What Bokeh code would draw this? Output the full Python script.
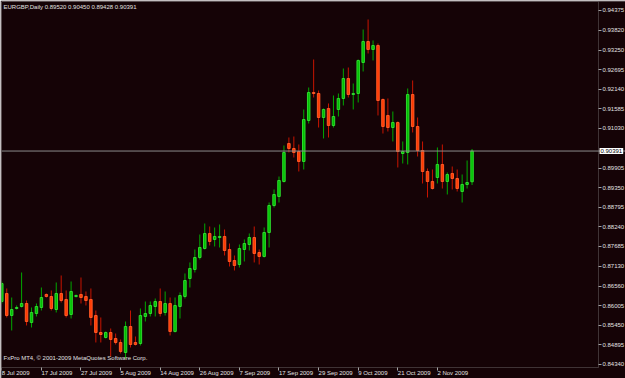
from bokeh.plotting import figure
from bokeh.models import (Range1d, FixedTicker, PrintfTickFormatter, Span, Label,
                          ColumnDataSource, LinearAxis, BoxAnnotation)
from bokeh.embed import file_html
from bokeh.resources import INLINE

symbol = "EURGBP,Daily"
copyright_text = "FxPro MT4, \u00a9 2001-2009 MetaQuotes Software Corp."

opens = [0.86126, 0.86353, 0.85729, 0.85928, 0.85984, 0.86069, 0.85531, 0.85786, 0.85956, 0.86325,
         0.86268, 0.85899, 0.86353, 0.86183, 0.85758, 0.86268, 0.86325, 0.86268, 0.86183, 0.85729,
         0.85247, 0.85106, 0.85247, 0.85077, 0.84964, 0.84680, 0.85417, 0.84964, 0.84935, 0.85701,
         0.85786, 0.85984, 0.86126, 0.85814, 0.86069, 0.85276, 0.85984, 0.86268, 0.86778, 0.87033,
         0.87373, 0.87628, 0.88054, 0.87884, 0.87940, 0.87969, 0.87600, 0.87288, 0.87175, 0.87600,
         0.87742, 0.87940, 0.87515, 0.87402, 0.88082, 0.88847, 0.89103, 0.89528, 0.90605, 0.90463,
         0.90378, 0.90095, 0.91257, 0.92051, 0.92022, 0.91342, 0.91597, 0.91115, 0.91569, 0.91881,
         0.92447, 0.91994, 0.92022, 0.92901, 0.93496, 0.93270, 0.93383, 0.91852, 0.91399, 0.91058,
         0.91200, 0.90321, 0.90350, 0.91994, 0.91087, 0.90406, 0.89811, 0.89528, 0.89641, 0.90010,
         0.89528, 0.89755, 0.89613, 0.89244, 0.89443, 0.89520]
highs = [0.86693, 0.86495, 0.86239, 0.86013, 0.86948, 0.86154, 0.85956, 0.86069, 0.86523, 0.86353,
         0.86438, 0.86665, 0.86863, 0.86438, 0.86693, 0.86325, 0.86806, 0.86410, 0.86495, 0.85871,
         0.85673, 0.85276, 0.85361, 0.85219, 0.85049, 0.85559, 0.85871, 0.85134, 0.85928, 0.86126,
         0.86126, 0.86211, 0.86495, 0.86410, 0.86239, 0.86239, 0.86381, 0.86920, 0.87232, 0.87600,
         0.88025, 0.88337, 0.88252, 0.88224, 0.88309, 0.88167, 0.87770, 0.87430, 0.87742, 0.87884,
         0.88054, 0.88252, 0.87600, 0.88224, 0.88932, 0.89301, 0.89669, 0.90548, 0.90775, 0.90803,
         0.90577, 0.91569, 0.92192, 0.92986, 0.92107, 0.91597, 0.91739, 0.91966, 0.92022, 0.92731,
         0.92759, 0.92306, 0.92986, 0.93836, 0.94120, 0.93525, 0.93440, 0.91881, 0.91881, 0.91512,
         0.91229, 0.90662, 0.92164, 0.92391, 0.91342, 0.90662, 0.89896, 0.89868, 0.90492, 0.90577,
         0.89783, 0.89953, 0.89868, 0.89726, 0.90123, 0.90450]
lows = [0.86069, 0.85673, 0.85304, 0.85899, 0.85956, 0.85446, 0.85389, 0.85701, 0.85871, 0.86239,
        0.85871, 0.85814, 0.86098, 0.85673, 0.85644, 0.86239, 0.86069, 0.86013, 0.85446, 0.84964,
        0.84964, 0.85077, 0.84567, 0.84907, 0.84652, 0.84510, 0.84822, 0.84879, 0.84879, 0.85559,
        0.85701, 0.85701, 0.85701, 0.85729, 0.85162, 0.85247, 0.85644, 0.86211, 0.86523, 0.86948,
        0.87317, 0.87600, 0.87714, 0.87685, 0.87657, 0.87430, 0.87118, 0.87005, 0.87090, 0.87260,
        0.87572, 0.87232, 0.87175, 0.87373, 0.87657, 0.88791, 0.88932, 0.89499, 0.90350, 0.90208,
        0.89811, 0.89868, 0.91172, 0.91909, 0.91058, 0.90747, 0.90775, 0.91058, 0.91370, 0.91682,
        0.91909, 0.91569, 0.91767, 0.92646, 0.93156, 0.92958, 0.91399, 0.90888, 0.90945, 0.90662,
        0.89925, 0.90038, 0.90010, 0.90917, 0.90236, 0.89471, 0.89074, 0.89301, 0.89471, 0.89329,
        0.89159, 0.89301, 0.89244, 0.88932, 0.89329, 0.89428]
closes = [0.86636, 0.85729, 0.85899, 0.85956, 0.86069, 0.85559, 0.85814, 0.85984, 0.86239, 0.86268,
          0.85928, 0.86353, 0.86154, 0.85729, 0.86410, 0.86296, 0.86239, 0.86154, 0.85673, 0.85247,
          0.85191, 0.85247, 0.85049, 0.84964, 0.84709, 0.85417, 0.84907, 0.84907, 0.85729, 0.85786,
          0.86013, 0.86126, 0.85786, 0.86069, 0.85276, 0.86013, 0.86296, 0.86721, 0.87062, 0.87373,
          0.87657, 0.88054, 0.87827, 0.87969, 0.87969, 0.87572, 0.87260, 0.87147, 0.87628, 0.87770,
          0.87940, 0.87487, 0.87402, 0.88082, 0.88847, 0.89159, 0.89556, 0.90350, 0.90463, 0.90350,
          0.90095, 0.91285, 0.92051, 0.92022, 0.91342, 0.91569, 0.91115, 0.91370, 0.91881, 0.92447,
          0.91994, 0.92022, 0.92958, 0.93496, 0.93270, 0.93383, 0.91824, 0.91087, 0.91058, 0.91200,
          0.90378, 0.90378, 0.91994, 0.91087, 0.90406, 0.89811, 0.89528, 0.89329, 0.90010, 0.89528,
          0.89726, 0.89613, 0.89329, 0.89443, 0.89499, 0.90391]

tick_bars = [0, 8, 16, 24, 32, 40, 48, 56, 64, 72, 80, 88]
tick_dates = ["8 Jul 2009", "17 Jul 2009", "27 Jul 2009", "5 Aug 2009", "14 Aug 2009",
              "26 Aug 2009", "7 Sep 2009", "17 Sep 2009", "29 Sep 2009", "9 Oct 2009",
              "21 Oct 2009", "2 Nov 2009"]
price_ticks = [0.94375, 0.93820, 0.93250, 0.92695, 0.92140, 0.91585, 0.91030, 0.89905, 0.89350,
               0.88795, 0.88240, 0.87685, 0.87130, 0.86560, 0.86005, 0.85450, 0.84895, 0.84340]

# ---- styling / layout ----
BG = "#150306"
GRID = "#a4a4a4"
TXT = "#e2e2e2"
FONT = "Liberation Sans"
FS = "6px"

# view extents (bar index / price); the chart box ends before the price scale strip
x_start, x_end, chart_right = -0.06, 126.0, 120.55
y_start, y_end, chart_bottom = 0.83943, 0.94630, 0.84255

n = len(opens)
idx = list(range(n))
up = [c >= o for o, c in zip(opens, closes)]
src = ColumnDataSource(dict(
    x=idx, o=opens, h=highs, l=lows, c=closes,
    top=[max(o, c) for o, c in zip(opens, closes)],
    bot=[min(o, c) for o, c in zip(opens, closes)],
    fill=["#00c000" if u else "#ff3a00" for u in up],
    edge=["#2ed82e" if u else "#ff5a28" for u in up],
    wick=["#00a800" if u else "#c81400" for u in up],
))

p = figure(width=625, height=378, output_backend="svg", toolbar_location=None,
           x_range=Range1d(x_start, x_end), y_range=Range1d(y_start, y_end),
           x_axis_location=None, y_axis_location=None,
           min_border_left=1, min_border_top=1, min_border_right=0, min_border_bottom=0)
p.background_fill_color = BG
p.border_fill_color = BG
p.outline_line_color = None
p.xgrid.visible = False
p.ygrid.visible = False

p.segment(x0="x", y0="l", x1="x", y1="h", source=src, line_color="wick", line_width=1)
p.vbar(x="x", width=0.5, top="top", bottom="bot", source=src,
       fill_color="fill", line_color="edge", line_width=1)

# chart border
p.add_layout(BoxAnnotation(left=x_start, right=chart_right, bottom=chart_bottom, top=y_end,
                           fill_color=None, line_color=GRID, line_width=1))

# current price line
p.add_layout(Span(location=closes[-1], dimension="width", line_color="#8c8c8c", line_width=1))

# price scale
ya = LinearAxis(ticker=FixedTicker(ticks=price_ticks), formatter=PrintfTickFormatter(format="%.5f"),
                fixed_location=chart_right)
ya.major_label_text_font = FONT
ya.major_label_text_font_size = FS
ya.major_label_text_color = TXT
ya.major_label_standoff = 1
ya.major_tick_in = 0
ya.major_tick_out = 3
ya.minor_tick_out = 0
ya.minor_tick_in = 0
ya.axis_line_color = None
ya.major_tick_line_color = GRID
p.add_layout(ya, "right")

# date scale
xa = LinearAxis(ticker=FixedTicker(ticks=tick_bars), fixed_location=chart_bottom)
xa.major_label_overrides = {b: d for b, d in zip(tick_bars, tick_dates)}
xa.major_label_orientation = -0.0001
xa.major_label_text_font = FONT
xa.major_label_text_font_size = FS
xa.major_label_text_color = TXT
xa.major_label_standoff = 3
xa.major_tick_in = 0
xa.major_tick_out = 3
xa.minor_tick_out = 0
xa.minor_tick_in = 0
xa.axis_line_color = None
xa.major_tick_line_color = GRID
p.add_layout(xa, "below")

header = f"{symbol}  {opens[-1]:.5f} {highs[-1]:.5f} {lows[-1]:.5f} {closes[-1]:.5f}"
p.add_layout(Label(x=x_start, y=y_end, x_offset=2, y_offset=-2, text=header,
                   text_baseline="top", text_align="left", text_color=TXT,
                   text_font=FONT, text_font_size=FS))
p.add_layout(Label(x=x_start, y=chart_bottom, x_offset=2, y_offset=6, text=copyright_text,
                   text_baseline="bottom", text_align="left", text_color=TXT,
                   text_font=FONT, text_font_size=FS))
price_tag = Label(x=chart_right, y=closes[-1], x_offset=1, text=f"{closes[-1]:.5f}",
                  text_baseline="middle", text_align="left", text_color="black",
                  background_fill_color="white", text_font=FONT, text_font_size=FS)
try:
    price_tag.padding = 1
except Exception:
    pass
p.add_layout(price_tag)

open("out.html", "w").write(file_html(p, INLINE))
